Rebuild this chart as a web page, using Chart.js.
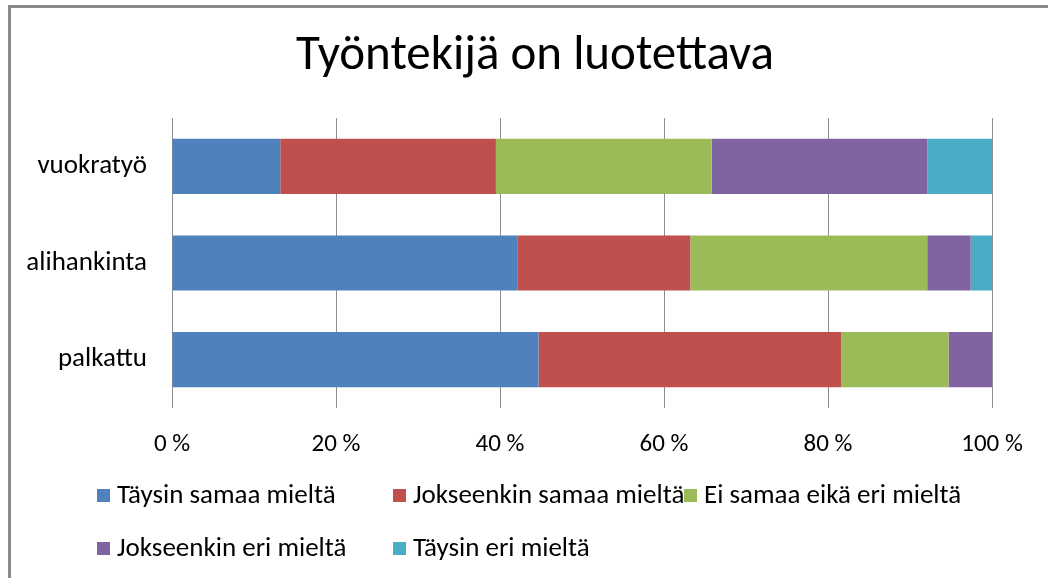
<!DOCTYPE html>
<html>
<head>
<meta charset="utf-8">
<script src="https://cdn.jsdelivr.net/npm/chart.js@4/dist/chart.umd.min.js"></script>
<style>
  html, body { margin: 0; padding: 0; background: #fff; }
  #wrap { position: relative; width: 1048px; height: 578px; overflow: hidden; background: #fff; }
  #frame { position: absolute; left: 8px; top: 5px; width: 1100px; height: 700px; border: 3px solid #8a8a8a; box-sizing: border-box; pointer-events: none; }
  canvas { position: absolute; left: 0; top: 0; }
</style>
</head>
<body>
<div id="wrap">
  <canvas id="c" width="1048" height="578"></canvas>
  <div id="frame"></div>
</div>
<script>
const categories = ['vuokratyö', 'alihankinta', 'palkattu'];
const seriesNames = ['Täysin samaa mieltä', 'Jokseenkin samaa mieltä', 'Ei samaa eikä eri mieltä', 'Jokseenkin eri mieltä', 'Täysin eri mieltä'];
const taysinSamaa = [13.2, 42.1, 44.7];
const jokseenkinSamaa = [26.3, 21.1, 36.9];
const eiSamaaEikaEri = [26.3, 28.9, 13.1];
const jokseenkinEri = [26.3, 5.3, 5.3];
const taysinEri = [7.9, 2.6, 0];
const xTicks = [0, 20, 40, 60, 80, 100];
const colors = ['#4F81BD', '#C0504D', '#9BBB59', '#8064A2', '#4BACC6'];

const seriesValues = [taysinSamaa, jokseenkinSamaa, eiSamaaEikaEri, jokseenkinEri, taysinEri];
const FONT = 'Carlito, Calibri, Lato, sans-serif';

// legend drawn in fixed columns like the reference (Excel-style)
const legendCols = [97, 393, 684];
const legendRows = [503, 556];
const fixedLegend = {
  id: 'fixedLegend',
  afterLayout(chart) {
    // shift the title centre to match the reference
    if (chart.titleBlock) { chart.titleBlock.left = 78; chart.titleBlock.right = 992; }
  },
  afterDraw(chart) {
    const ctx = chart.ctx;
    ctx.save();
    ctx.font = '27px ' + FONT;
    ctx.textBaseline = 'alphabetic';
    ctx.textAlign = 'left';
    chart.data.datasets.forEach((ds, i) => {
      const x = legendCols[i % 3];
      const y = legendRows[Math.floor(i / 3)];
      ctx.fillStyle = ds.backgroundColor;
      ctx.fillRect(x, y - 14, 13, 13);
      ctx.fillStyle = '#000';
      ctx.fillText(ds.label, x + 20, y);
    });
    ctx.restore();
  }
};

const chart = new Chart(document.getElementById('c'), {
  type: 'bar',
  data: {
    labels: categories,
    datasets: seriesNames.map((n, i) => ({
      label: n,
      data: seriesValues[i],
      backgroundColor: colors[i],
      borderWidth: 0,
      categoryPercentage: 1,
      barPercentage: 0.57
    }))
  },
  options: {
    indexAxis: 'y',
    responsive: false,
    animation: false,
    layout: { padding: { left: 0, right: 56, top: 0, bottom: 120 } },
    plugins: {
      legend: { display: false },
      tooltip: { enabled: false },
      title: {
        display: true,
        text: 'Työntekijä on luotettava',
        color: '#000',
        font: { family: FONT, size: 49, weight: 'normal', lineHeight: 1.2 },
        padding: { top: 27.6, bottom: 31.6 }
      }
    },
    scales: {
      x: {
        stacked: true,
        min: 0, max: 100,
        afterBuildTicks: s => { s.ticks = xTicks.map(v => ({ value: v })); },
        afterFit: s => { s.height = 50; },
        grid: { color: '#8e8e8e', lineWidth: 1, drawTicks: false },
        border: { display: false },
        ticks: {
          padding: 22,
          color: '#000',
          font: { family: FONT, size: 25 },
          callback: v => v + ' %'
        }
      },
      y: {
        stacked: true,
        afterFit: s => { s.width = 172; },
        grid: { display: false, drawTicks: false },
        border: { display: false },
        ticks: {
          padding: 25,
          color: '#000',
          font: { family: FONT, size: 27 }
        }
      }
    }
  },
  plugins: [fixedLegend]
});
</script>
</body>
</html>
